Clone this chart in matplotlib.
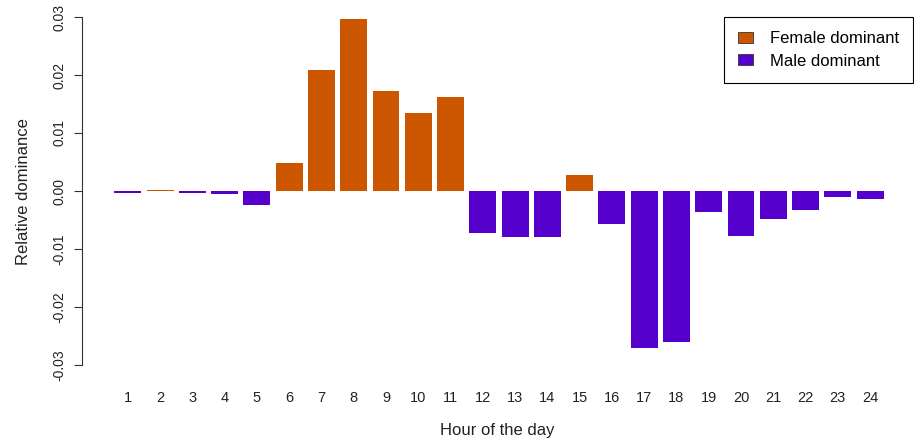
import matplotlib
matplotlib.use("Agg")
import matplotlib.pyplot as plt
from matplotlib.patches import Patch

plt.rcParams['font.family'] = ['Liberation Sans', 'DejaVu Sans']

hours = list(range(1, 25))
values = [-0.0003, 0.0002, -0.0003, -0.0005, -0.0024, 0.0049, 0.0209, 0.0297,
          0.0172, 0.0134, 0.0162, -0.0072, -0.0079, -0.0079, 0.0028, -0.0057,
          -0.0270, -0.0260, -0.0037, -0.0078, -0.0048, -0.0032, -0.0011, -0.0014]
yticks = [-0.03, -0.02, -0.01, 0.00, 0.01, 0.02, 0.03]
ytick_labels = ["-0.03", "-0.02", "-0.01", "0.00", "0.01", "0.02", "0.03"]
series_names = ["Female dominant", "Male dominant"]

female_color = "#CC5500"
male_color = "#5500CC"
colors = [female_color if v > 0 else male_color for v in values]

W, H = 914, 442
fig = plt.figure(figsize=(W / 100, H / 100), dpi=100)
ax = fig.add_axes([82 / W, (H - 378) / H, (913 - 82) / W, (378 - 5) / H])

ax.bar(hours, values, width=0.835, color=colors, edgecolor='none')

ax.set_xlim(1 - 1.42, 24 + 1.33)
ax.set_ylim((191 - 378) / 5800, (191 - 5) / 5800)

ax.set_yticks(yticks)
ax.set_yticklabels(ytick_labels, rotation=90, va='center', fontsize=10, color='#222222')
ax.tick_params(axis='y', length=6, width=0.8, pad=5, color='#333333')
ax.set_xticks(hours)
ax.set_xticklabels([str(h) for h in hours], fontsize=10.5, color='#222222')
ax.tick_params(axis='x', length=0, pad=9)

for s in ['top', 'right', 'bottom']:
    ax.spines[s].set_visible(False)
ax.spines['left'].set_bounds(-0.03, 0.03)
ax.spines['left'].set_linewidth(0.8)
ax.spines['left'].set_color('#333333')

ax.set_xlabel("Hour of the day", fontsize=12, labelpad=13, color='#222222')
ax.set_ylabel("Relative dominance", fontsize=12, labelpad=16, color='#222222')

handles = [Patch(facecolor=female_color, edgecolor='#333333', linewidth=0.6),
           Patch(facecolor=male_color, edgecolor='#333333', linewidth=0.6)]
leg = fig.legend(handles, series_names, loc='upper right',
                 bbox_to_anchor=(913 / W, (H - 17) / H), fontsize=12,
                 frameon=True, fancybox=False, framealpha=1, edgecolor='black',
                 handlelength=0.9, handleheight=0.6, handletextpad=1.0,
                 borderpad=0.85, labelspacing=0.45, borderaxespad=0)
leg.get_frame().set_linewidth(0.8)

fig.savefig("out.png", dpi=100)
